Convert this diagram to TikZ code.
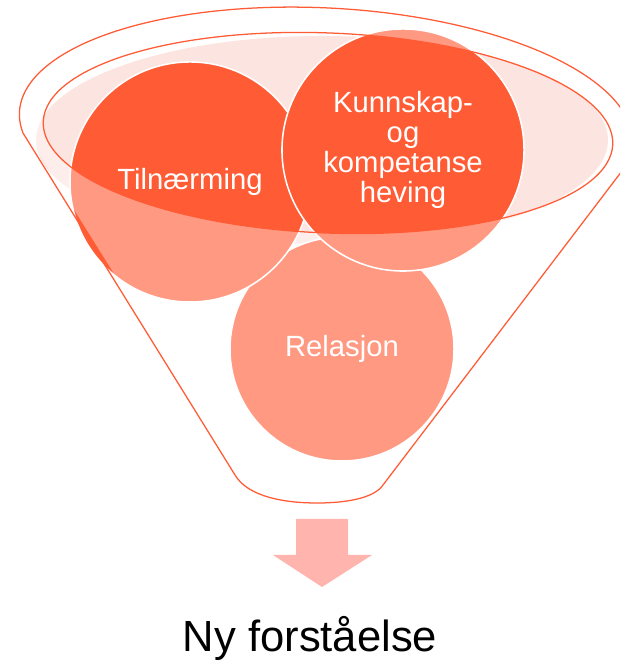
\documentclass[tikz,border=0pt]{standalone}
\usepackage{fontspec}
\setmainfont{Liberation Sans}
\usetikzlibrary{positioning}

\definecolor{funnelred}{HTML}{FF5B35}
\definecolor{funnelpink}{HTML}{FCE4E0}
\definecolor{arrowpink}{HTML}{FFB4AD}

\begin{document}
\begin{tikzpicture}[x=0.025cm, y=0.025cm,
bubble/.style={circle, fill=funnelred, draw=white, line width=1.1pt, text=white, align=center, inner sep=0pt, font=\fontsize{20.8}{21.5}\selectfont},
rim/.style={draw=funnelred, line width=0.9pt}]
    \useasboundingbox (0,0) rectangle (620,662);
    \clip (0,0) rectangle (620,662);

    % opening of the funnel
    \fill[funnelpink] (322,522) ellipse [x radius=286, y radius=104];

    % the three circles
    \node[bubble, minimum size=5.6cm] (relasjon) at (342,313) {Relasjon};
    \node[bubble, minimum size=6cm] (tilnaerming) at (190,480) {Tilnærming};
    \node[bubble, minimum size=6.05cm] (kunnskap) at (403,512) {Kunnskap-\\og\\kompetanse\\heving};

    % lighter body of the funnel
    \fill[white, opacity=0.38, even odd rule]
      (238,190) -- plot[domain=190:-10, samples=80] ({326+304*cos(\x)*cos(3)+118*sin(\x)*sin(3)}, {534-304*cos(\x)*sin(3)+118*sin(\x)*cos(3)})
      -- (385,177) .. controls (372,166) and (345,162) .. (317,162) .. controls (285,162) and (250,168) .. (238,190) -- cycle
      plot[domain=0:360, samples=100] ({328+285*cos(\x)*cos(2.3)+100*sin(\x)*sin(2.3)}, {529-285*cos(\x)*sin(2.3)+100*sin(\x)*cos(2.3)}) -- cycle;

    % outlines
    \draw[rim, rotate around={-2.3:(328,529)}] (328,529) ellipse [x radius=285, y radius=100];
    \draw[rim] (235,187) -- plot[domain=190:-10, samples=100] ({326+307*cos(\x)*cos(3)+120*sin(\x)*sin(3)}, {534-307*cos(\x)*sin(3)+120*sin(\x)*cos(3)})
      -- (383,177) .. controls (375,165) and (350,159) .. (317,159) .. controls (285,159) and (248,165) .. (235,187) -- cycle;

    % arrow and result
    \fill[arrowpink] (296,143) -- (348,143) -- (348,107) -- (372,107) -- (322,75) -- (273,107) -- (296,107) -- cycle;
    \node[font=\fontsize{31}{37}\selectfont, anchor=base] (result) at (310,11) {Ny forståelse};
\end{tikzpicture}
\end{document}
